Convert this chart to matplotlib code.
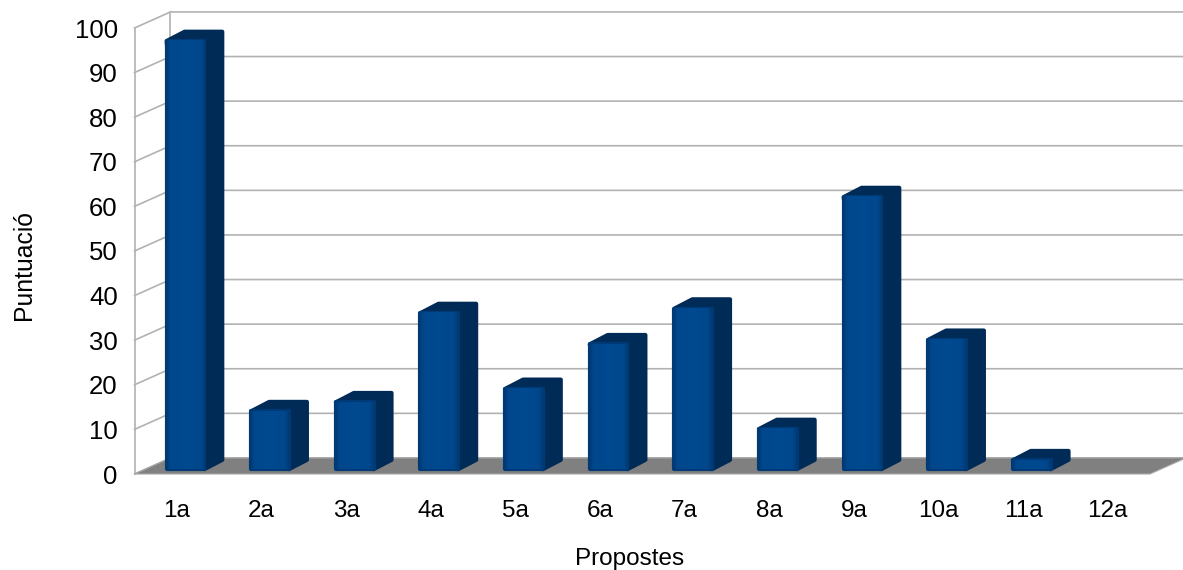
import matplotlib

matplotlib.use("Agg")
import matplotlib.pyplot as plt
import numpy as np
from matplotlib.colors import LinearSegmentedColormap
from matplotlib.patches import Polygon, Rectangle

categories = ["1a", "2a", "3a", "4a", "5a", "6a", "7a", "8a", "9a", "10a", "11a", "12a"]
scores = [96, 13, 15, 35, 18, 28, 36, 9, 61, 29, 2, 0]
y_ticks = list(range(0, 101, 10))

# fake 3d: how far the back wall sits from the front plane, in data units
depth_x = 0.425
depth_y = 3.6
bar_width = 0.445
bar_shift_x = 0.24
bar_shift_y = 0.3
bar_depth_x = 0.5
bar_depth_y = 0.58

grid_color = "#b2b2b2"
floor_color = "#808080"
side_color = "#002b57"
face_map = LinearSegmentedColormap.from_list(
    "face",
    [
        (0.0, "#003a76"),
        (0.08, "#00478c"),
        (0.5, "#004a90"),
        (0.9, "#00478c"),
        (1.0, "#003a76"),
    ],
)

plt.rcParams["font.family"] = ["Liberation Sans", "DejaVu Sans"]

fig = plt.figure(figsize=(11.83, 5.70), dpi=100)
ax = fig.add_axes([134.5 / 1183, 1 - 474 / 570, 1015.5 / 1183, 446 / 570])
for spine in ax.spines.values():
    spine.set_visible(False)

# walls and gridlines
for tick in y_ticks:
    ax.plot(
        [0, depth_x, 12 + depth_x],
        [tick, tick + depth_y, tick + depth_y],
        color=grid_color,
        lw=1.2,
        clip_on=False,
        zorder=1,
    )
ax.plot([0, 0], [0, 100], color=grid_color, lw=1.2, clip_on=False, zorder=1)
ax.plot([depth_x, depth_x], [depth_y, 100 + depth_y], color=grid_color, lw=1.2, clip_on=False, zorder=1)

floor = Polygon(
    [(0, 0), (12, 0), (12 + depth_x, depth_y), (depth_x, depth_y)],
    facecolor=floor_color,
    edgecolor="#a8a8a8",
    lw=0.8,
    clip_on=False,
    zorder=2,
)
ax.add_patch(floor)

gradient = np.linspace(0, 1, 64).reshape(1, -1)
for index, score in enumerate(scores):
    if score == 0:
        continue
    left = index + 0.5 - bar_width / 2 + depth_x * bar_shift_x
    right = left + bar_width
    bottom = depth_y * bar_shift_y
    top = bottom + score
    shift_x = depth_x * bar_depth_x
    shift_y = depth_y * bar_depth_y

    # side and top of the bar, the round joins give the soft corners
    body = Polygon(
        [
            (left, top),
            (left + shift_x, top + shift_y),
            (right + shift_x, top + shift_y),
            (right + shift_x, bottom + shift_y),
            (right, bottom),
        ],
        facecolor=side_color,
        edgecolor=side_color,
        lw=3,
        joinstyle="round",
        clip_on=False,
        zorder=3,
    )
    ax.add_patch(body)

    face = Rectangle(
        (left, bottom),
        bar_width,
        score,
        facecolor="#00478c",
        edgecolor="#003a76",
        lw=3,
        joinstyle="round",
        clip_on=False,
        zorder=4,
    )
    ax.add_patch(face)
    ax.imshow(
        gradient,
        extent=(left, right, bottom, top),
        cmap=face_map,
        aspect="auto",
        interpolation="bilinear",
        clip_on=False,
        zorder=5,
    )

ax.set_xlim(0, 12)
ax.set_ylim(0, 100)
ax.set_xticks(np.arange(12) + 0.5, categories, fontsize=17.5)
ax.set_yticks(y_ticks, [str(tick) for tick in y_ticks], fontsize=18.5)
ax.tick_params(axis="x", length=0, pad=19)
ax.tick_params(axis="y", length=0, pad=12)
ax.set_xlabel("Propostes", fontsize=17.5)
ax.set_ylabel("Puntuació", fontsize=17.8)
ax.xaxis.set_label_coords(495.5 / 1015.5, -74 / 446)
ax.yaxis.set_label_coords(-98.5 / 1015.5, 209 / 446)

fig.savefig("out.png", dpi=100)
plt.close(fig)
